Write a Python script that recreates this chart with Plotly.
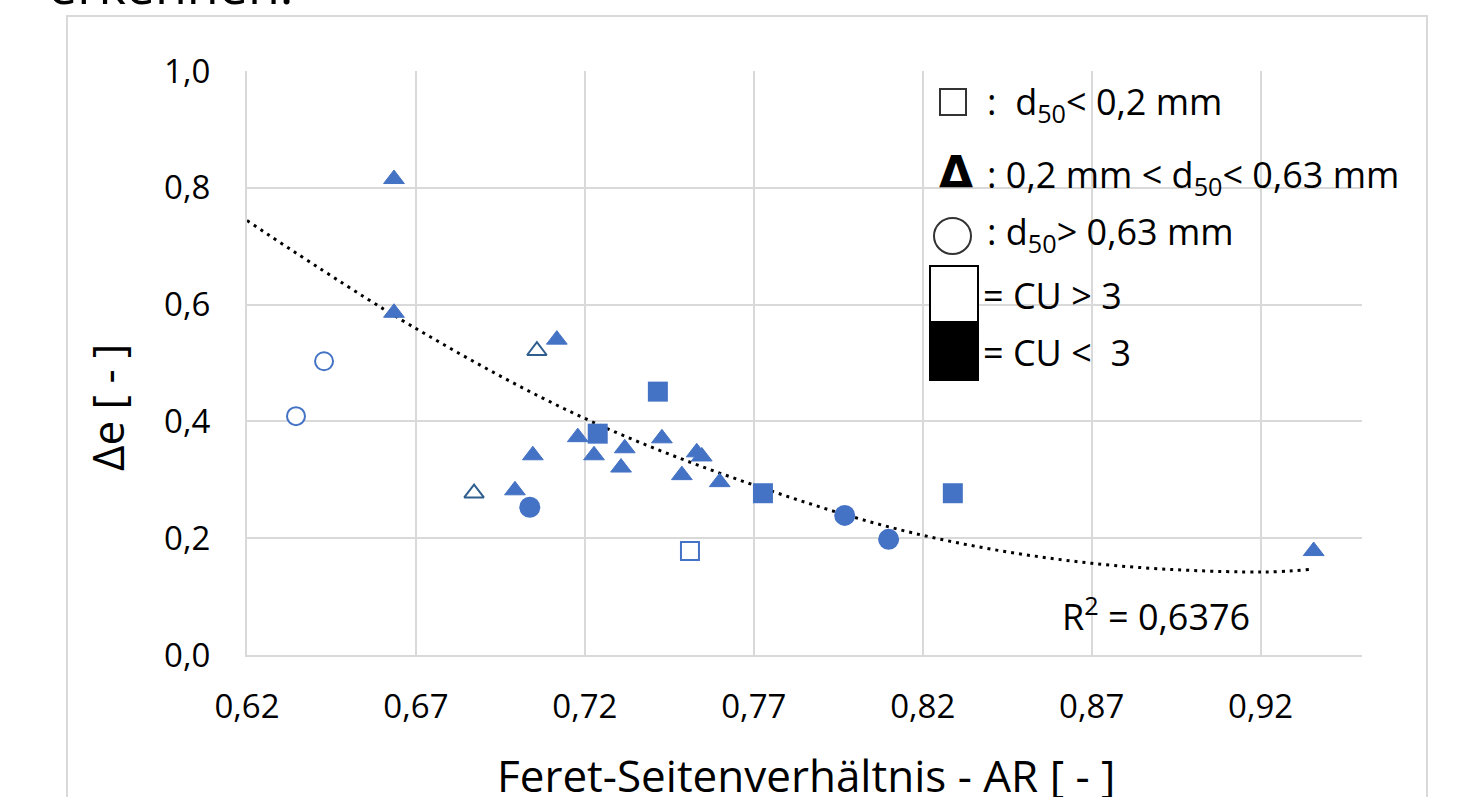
import plotly.graph_objects as go

# ---- data ----
tri_fill_x = [0.6635, 0.6635, 0.7117, 0.7179, 0.7046, 0.7227, 0.7318, 0.7307,
              0.7428, 0.7531, 0.7546, 0.7487, 0.7599, 0.6993, 0.9357]
tri_fill_y = [0.815, 0.586, 0.540, 0.373, 0.342, 0.342, 0.354, 0.321,
              0.371, 0.347, 0.340, 0.308, 0.296, 0.282, 0.178]
tri_open_x = [0.7058, 0.6872]
tri_open_y = [0.521, 0.277]
sq_fill_x = [0.7238, 0.7416, 0.7727, 0.8289]
sq_fill_y = [0.379, 0.451, 0.277, 0.277]
sq_open_x = [0.7511]
sq_open_y = [0.178]
ci_fill_x = [0.7037, 0.7969, 0.8099]
ci_fill_y = [0.253, 0.239, 0.198]
ci_open_x = [0.6428, 0.6345]
ci_open_y = [0.503, 0.409]

# polynomial trendline
trend_x = [0.62, 0.67, 0.72, 0.77, 0.82, 0.87, 0.92, 0.935]
trend_y = [0.744, 0.559, 0.405, 0.291, 0.205, 0.157, 0.142, 0.147]

x_ticks = [0.62, 0.67, 0.72, 0.77, 0.82, 0.87, 0.92]
y_ticks = [0.0, 0.2, 0.4, 0.6, 0.8, 1.0]
r2_label = "R<sup>2</sup> = 0,6376"

BLUE = "#4472C4"
DARKBLUE = "#2E5E8E"
GRID = "#d9d9d9"
FONT = "Open Sans"

fig = go.Figure()
fig.add_trace(go.Scatter(x=trend_x, y=trend_y, mode="lines",
                         line=dict(color="black", width=3, dash="3px,5px", shape="spline"),
                         hoverinfo="skip"))
fig.add_trace(go.Scatter(x=tri_fill_x, y=tri_fill_y, mode="markers",
                         marker=dict(symbol="triangle-up", size=18, color=BLUE,
                                     line=dict(color=BLUE, width=1))))
fig.add_trace(go.Scatter(x=tri_open_x, y=tri_open_y, mode="markers",
                         marker=dict(symbol="triangle-up", size=17, color="white",
                                     line=dict(color=DARKBLUE, width=2))))
fig.add_trace(go.Scatter(x=sq_fill_x, y=sq_fill_y, mode="markers",
                         marker=dict(symbol="square", size=20, color=BLUE,
                                     line=dict(width=0))))
fig.add_trace(go.Scatter(x=sq_open_x, y=sq_open_y, mode="markers",
                         marker=dict(symbol="square", size=18, color="white",
                                     line=dict(color=BLUE, width=2))))
fig.add_trace(go.Scatter(x=ci_fill_x, y=ci_fill_y, mode="markers",
                         marker=dict(symbol="circle", size=21, color=BLUE,
                                     line=dict(width=0))))
fig.add_trace(go.Scatter(x=ci_open_x, y=ci_open_y, mode="markers",
                         marker=dict(symbol="circle", size=18, color="white",
                                     line=dict(color=BLUE, width=2))))

# pixel helpers for paper-space decorations (plot area: x 247..1362, y 71..655)
L, R, T, B = 247, 1362, 71, 655
def px(v):
    return (v - L) / (R - L)
def py(v):
    return (B - v) / (B - T)

shapes = [
    dict(type="rect", xref="paper", yref="paper", x0=px(67), x1=px(1427),
         y0=py(830), y1=py(16), line=dict(color=GRID, width=2), layer="below"),
    dict(type="rect", xref="paper", yref="paper", x0=px(928), x1=1.0,
         y0=py(381), y1=py(76), fillcolor="white", line=dict(width=0), layer="between"),
    dict(type="rect", xref="paper", yref="paper", x0=px(940), x1=px(966),
         y0=py(115), y1=py(89), line=dict(color="#333333", width=2), fillcolor="white", layer="above"),
    dict(type="circle", xref="paper", yref="paper", x0=px(934), x1=px(971),
         y0=py(254), y1=py(218), line=dict(color="#333333", width=2), fillcolor="white", layer="above"),
    dict(type="rect", xref="paper", yref="paper", x0=px(930), x1=px(978),
         y0=py(322), y1=py(266), line=dict(color="black", width=2), fillcolor="white", layer="above"),
    dict(type="rect", xref="paper", yref="paper", x0=px(930), x1=px(978),
         y0=py(380), y1=py(322), line=dict(color="black", width=2), fillcolor="black", layer="above"),
]

LEG = 36
def ann(text, x, y, size=LEG, xanchor="left", **kw):
    return dict(text=text, xref="paper", yref="paper", x=px(x), y=py(y),
                xanchor=xanchor, yanchor="middle", showarrow=False,
                font=dict(family=kw.pop("family", FONT), size=size, color="black"), **kw)

annotations = [
    ann(":  d<sub>50</sub>&lt; 0,2 mm", 985, 103),
    ann("<b>Δ</b>", 937, 172, size=44, family="DejaVu Sans"),
    ann(": 0,2 mm &lt; d<sub>50</sub>&lt; 0,63 mm", 985, 177),
    ann(": d<sub>50</sub>&gt; 0,63 mm", 985, 233),
    ann("= CU &gt; 3", 981, 295),
    ann("= CU &lt;  3", 981, 352),
    ann(r2_label, 1060, 614),
    ann("Feret-Seitenverhältnis - AR [ - ]", 806, 775, size=44, xanchor="center"),
    ann("Δe [ - ]", 107, 408, size=44, xanchor="center", textangle=-90),
    ann("erkennen.", 46, -17, size=52),
]

fig.update_layout(
    width=1463, height=797,
    margin=dict(l=L, r=1463 - R, t=T, b=797 - B),
    paper_bgcolor="white", plot_bgcolor="white",
    showlegend=False,
    separators=",.",
    font=dict(family=FONT, size=33, color="black"),
    shapes=shapes, annotations=annotations,
    xaxis=dict(range=[0.62, 0.95], tickvals=x_ticks, tickformat=".2f",
               showgrid=True, gridcolor=GRID, gridwidth=2,
               showline=True, linecolor=GRID, linewidth=2,
               zeroline=False, ticks="", ticklabelstandoff=21,
               tickfont=dict(size=33, color="black")),
    yaxis=dict(range=[0, 1.0], tickvals=y_ticks, tickformat=".1f",
               showgrid=True, gridcolor=GRID, gridwidth=2,
               showline=True, linecolor=GRID, linewidth=2,
               zeroline=False, ticks="", ticklabelstandoff=28,
               tickfont=dict(size=33, color="black")),
)

fig.write_html("out.html", config={"displayModeBar": False},
               post_script="document.body.style.margin='0';")
